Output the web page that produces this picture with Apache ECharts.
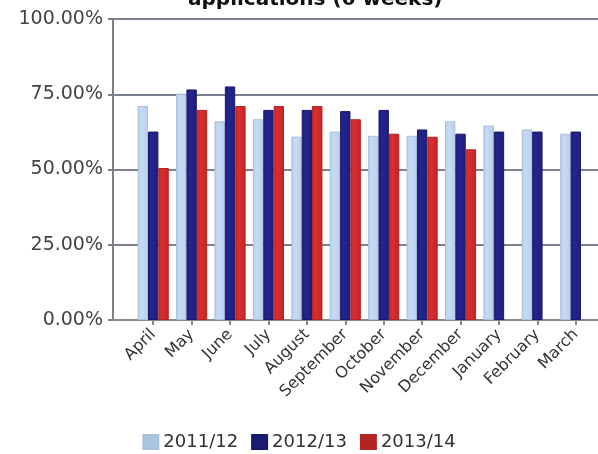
<!DOCTYPE html>
<html><head><meta charset="utf-8">
<script src="https://cdn.jsdelivr.net/npm/echarts@6/dist/echarts.min.js"></script>
<style>html,body{margin:0;padding:0;background:#fff}#c{width:598px;height:454px}</style>
</head><body><div id="c"></div>
<script>
const categories = ['April','May','June','July','August','September','October','November','December','January','February','March'];
const s2011 = [71.1, 75.2, 66.0, 66.7, 60.9, 62.6, 61.2, 61.2, 66.0, 64.6, 63.3, 61.9];
const s2012 = [62.6, 76.6, 77.6, 69.8, 69.8, 69.4, 69.8, 63.3, 61.9, 62.6, 62.6, 62.6];
const s2013 = [50.5, 69.8, 71.1, 71.1, 71.1, 66.7, 61.9, 60.9, 56.7, null, null, null];
const seriesNames = ['2011/12','2012/13','2013/14'];
const yTickLabels = ['0.00%','25.00%','50.00%','75.00%','100.00%'];
const titleText = 'applications (6 weeks)';

const FONT = 'DejaVu Sans';
function grad(c1, c2, c3){
  return new echarts.graphic.LinearGradient(0,0,1,0,[{offset:0,color:c1},{offset:0.35,color:c2},{offset:1,color:c3}]);
}
const chart = echarts.init(document.getElementById('c'), null, {renderer:'canvas'});
chart.setOption({
  animation:false,
  title:{text:titleText, left:183, top:-15, textStyle:{fontFamily:FONT, fontSize:20, fontWeight:'bold', color:'#111'}},
  legend:{
    data:[
      {name:seriesNames[0], itemStyle:{color:'#abc4e2'}},
      {name:seriesNames[1], itemStyle:{color:'#1b1b72'}},
      {name:seriesNames[2], itemStyle:{color:'#b52222'}}
    ],
    bottom:-2, left:'center', icon:'rect', itemWidth:15, itemHeight:14, itemGap:13,
    textStyle:{fontFamily:FONT, fontSize:18, color:'#333'}
  },
  grid:[
    {left:113, right:0, top:19, bottom:134},
    {left:134, right:3, top:19, bottom:134}
  ],
  xAxis:[
    {gridIndex:0, type:'value', min:0, max:1, axisLine:{show:true, lineStyle:{color:'#888', width:2}}, axisTick:{show:false}, axisLabel:{show:false}, splitLine:{show:false}},
    {gridIndex:1, type:'category', data:categories,
     axisLine:{show:false}, axisTick:{show:true, alignWithLabel:true, length:5, lineStyle:{color:'#888', width:2}},
     axisLabel:{rotate:45, fontFamily:FONT, fontSize:16, color:'#333', margin:12, interval:0}}
  ],
  yAxis:[
    {gridIndex:0, type:'value', min:0, max:100, interval:25,
     axisLine:{show:true, lineStyle:{color:'#808080', width:2}},
     axisTick:{show:true, length:5, lineStyle:{color:'#808080', width:2}},
     axisLabel:{fontFamily:FONT, fontSize:19, color:'#444', margin:10, formatter:(v)=>yTickLabels[Math.round(v/25)]},
     splitLine:{show:true, lineStyle:{color:'#7a8290', width:2}}},
    {gridIndex:1, type:'value', min:0, max:100, show:false}
  ],
  series:[
    {name:seriesNames[0], type:'bar', xAxisIndex:1, yAxisIndex:1, data:s2011, barGap:'0%', barCategoryGap:'19%',
     itemStyle:{color:grad('#b7cde9','#c7daf3','#bcd0ec'), borderColor:'#a9bfdd', borderWidth:1}},
    {name:seriesNames[1], type:'bar', xAxisIndex:1, yAxisIndex:1, data:s2012, barGap:'0%', barCategoryGap:'19%',
     itemStyle:{color:grad('#1c1c7a','#24248e','#1e1e80'), borderColor:'#1a1a6a', borderWidth:1}},
    {name:seriesNames[2], type:'bar', xAxisIndex:1, yAxisIndex:1, data:s2013, barGap:'0%', barCategoryGap:'19%',
     itemStyle:{color:grad('#cf2626','#d82e2e','#c42424'), borderColor:'#b52222', borderWidth:1}}
  ]
});
</script></body></html>
